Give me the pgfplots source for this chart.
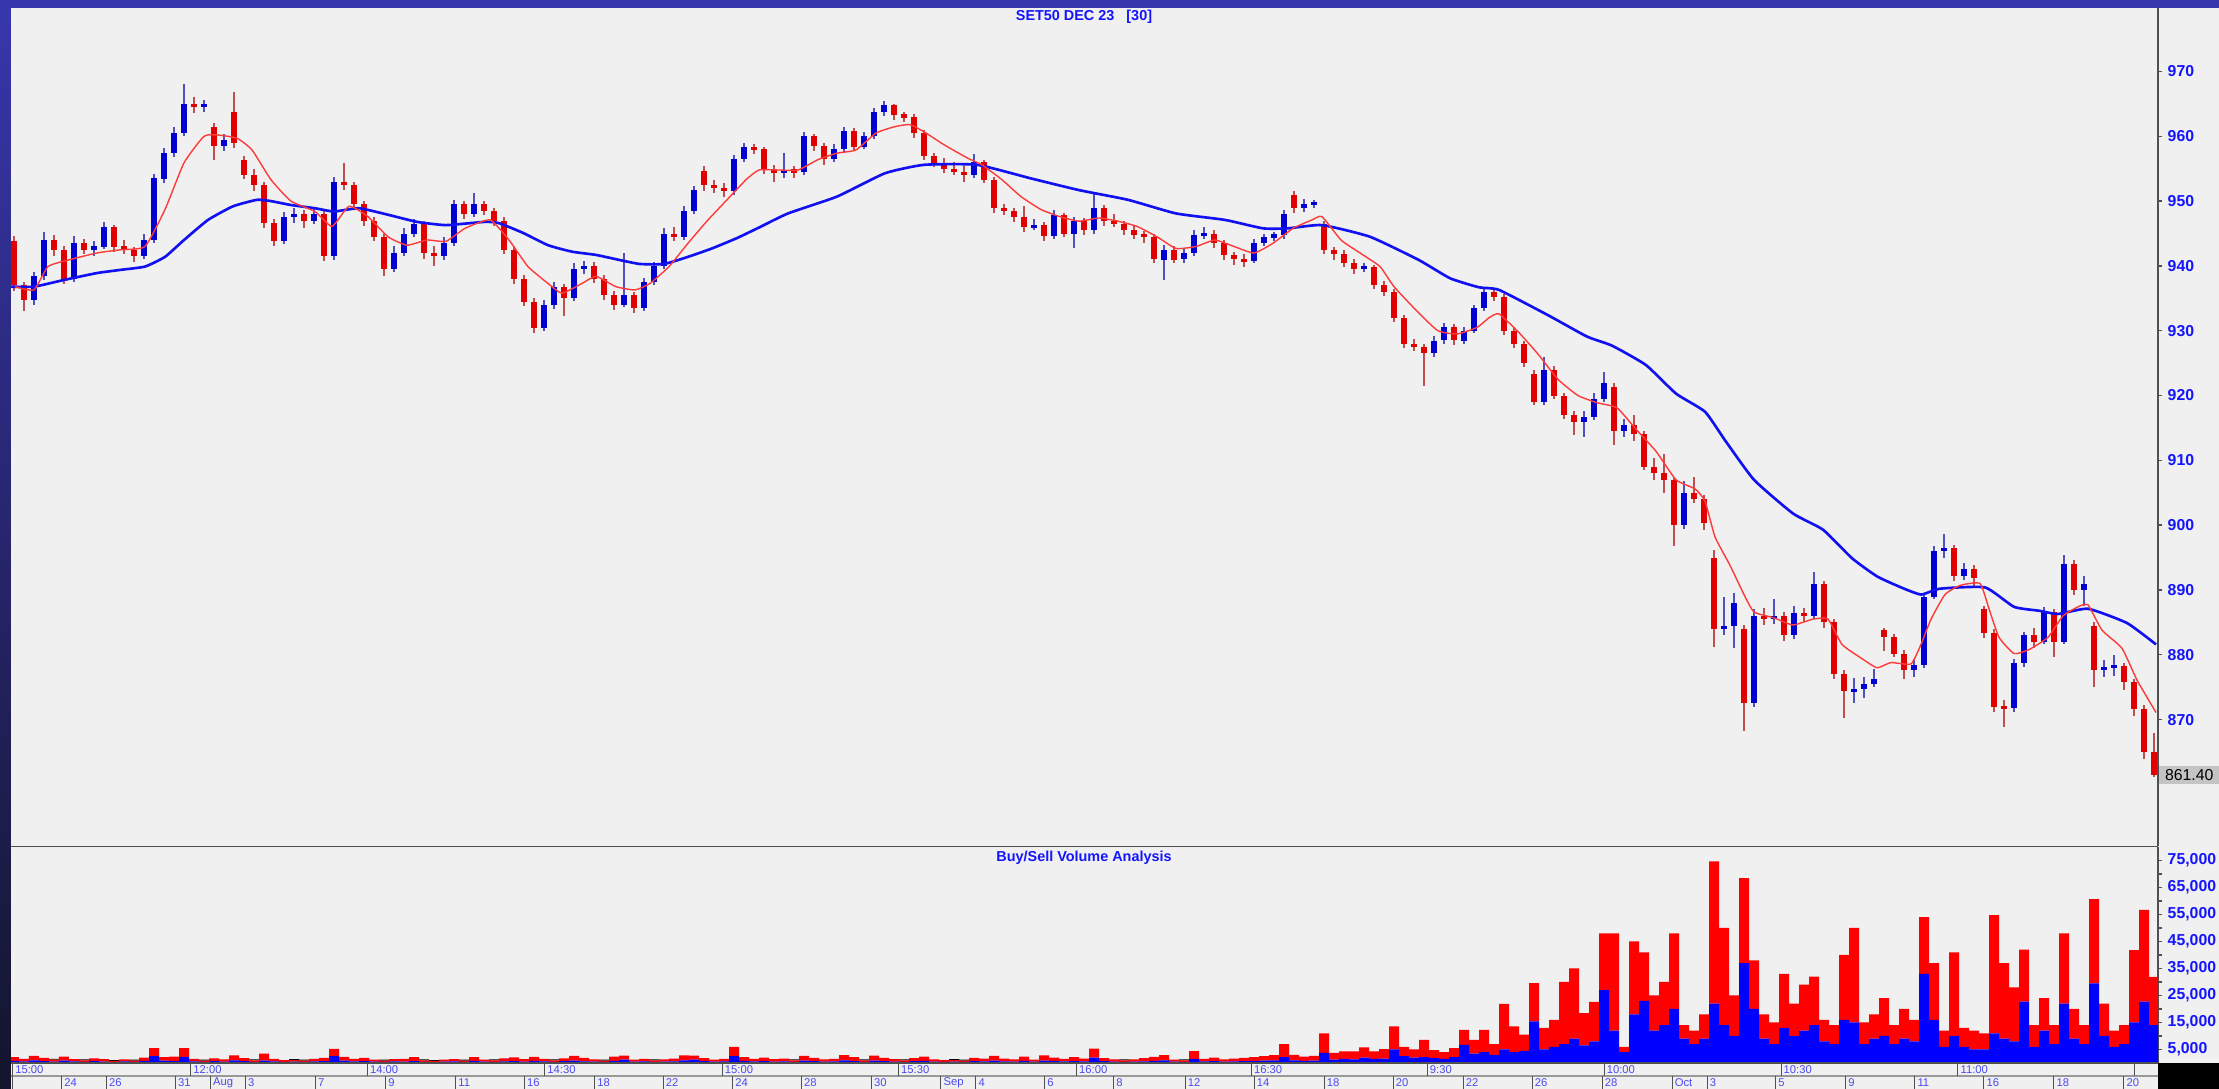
\documentclass[border=0pt]{standalone}
\usepackage{pgfplots}
\usepackage{pgfplotstable}
\usepackage{fontspec}
\setmainfont{Liberation Sans}
\pgfplotsset{compat=1.18}

% === COLOURS ===
\definecolor{frameBlue}{HTML}{3836AC}
\definecolor{frameDark}{HTML}{14142C}
\definecolor{panelBg}{HTML}{F0F0F0}
\definecolor{axisGray}{HTML}{505050}
\definecolor{labelBlue}{HTML}{1414FF}
\definecolor{dateBlue}{HTML}{4A4AF0}
\definecolor{upBody}{HTML}{0000D0}
\definecolor{downBody}{HTML}{E00000}
\definecolor{upWick}{HTML}{5050C0}
\definecolor{downWick}{HTML}{C05050}
\definecolor{maSlow}{HTML}{1010F0}
\definecolor{maFast}{HTML}{FF3A3A}
\definecolor{volBuy}{HTML}{0000FF}
\definecolor{volSell}{HTML}{FF0000}
\definecolor{lastGray}{HTML}{C4C4C4}

\newcommand\tickfont{\fontsize{4.5}{5}\selectfont\bfseries}
\newcommand\titlefont{\fontsize{4.1}{5}\selectfont\bfseries}
\newcommand\datefont{\fontsize{3.2}{4}\selectfont}

% === DATA (x in pixels of the original picture) ===
% 30-min candles, aggregated: open high low close
\pgfplotstableread{
x o h l c
14 943.8 944.6 936.2 937.0
24 937.0 937.6 933.0 934.8
34 934.8 939.0 934.0 938.4
44 938.4 945.2 937.8 944.0
54 944.0 944.8 941.6 942.5
64 942.5 943.0 937.2 938.0
74 938.0 944.6 937.5 943.5
84 943.5 944.2 941.8 942.5
94 942.5 943.8 941.5 943.0
104 943.0 946.8 942.6 946.0
114 946.0 946.4 942.2 943.0
124 943.0 944.0 941.8 942.5
134 942.5 943.0 940.6 941.5
144 941.5 945.0 941.0 944.0
154 944.0 954.2 943.5 953.5
164 953.5 958.2 952.8 957.5
174 957.5 961.4 956.8 960.5
184 960.5 968.1 960.0 965.0
194 965.0 966.0 963.6 964.5
204 964.5 965.6 963.8 965.0
214 961.5 962.0 956.4 958.5
224 958.5 960.4 957.8 959.5
234 963.8 966.9 958.2 958.9
244 956.4 957.0 953.4 954.0
254 954.0 955.0 951.6 952.5
264 952.5 953.0 945.8 946.6
274 946.6 947.2 943.0 943.8
284 943.8 948.4 943.4 947.5
294 947.5 949.0 946.6 948.0
304 948.0 948.6 945.8 947.0
314 947.0 949.0 946.4 948.0
324 948.0 948.4 940.8 941.5
334 941.5 953.8 941.0 953.0
344 953.0 955.9 951.8 952.5
354 952.5 953.0 948.8 949.5
364 949.5 950.0 946.2 947.0
374 947.0 947.6 943.8 944.5
384 944.5 945.0 938.4 939.5
394 939.5 943.0 939.0 942.0
404 942.0 945.8 941.6 945.0
414 945.0 947.2 944.4 946.5
424 946.5 947.0 941.0 942.0
434 942.0 943.0 940.0 941.5
444 941.5 944.4 941.0 943.5
454 943.5 950.2 943.0 949.5
464 949.5 950.0 947.2 948.0
474 948.0 951.2 947.6 949.5
484 949.5 950.0 947.8 948.5
494 948.5 949.0 946.2 947.0
504 947.0 947.6 941.8 942.5
514 942.5 943.0 937.2 938.0
524 938.0 938.6 933.8 934.5
534 934.5 935.0 929.6 930.5
544 930.5 934.8 930.0 934.0
554 934.0 937.6 933.4 936.8
564 936.8 937.2 932.2 935.0
574 935.0 940.4 934.6 939.5
584 939.5 940.8 938.8 940.0
594 940.0 940.6 937.4 938.0
604 938.0 938.6 934.8 935.5
614 935.5 936.2 933.2 934.0
624 934.0 942.0 933.6 935.5
634 935.5 936.0 932.7 933.5
644 933.5 938.2 933.0 937.5
654 937.5 940.6 937.0 940.0
664 940.0 945.8 939.6 945.0
674 945.0 946.0 943.8 944.5
684 944.5 949.2 944.0 948.5
694 948.5 952.4 948.0 951.7
704 954.6 955.4 951.6 952.5
714 952.5 953.2 951.2 952.0
724 952.0 952.8 950.6 951.5
734 951.5 957.2 951.0 956.5
744 956.5 959.0 956.0 958.3
754 958.3 958.8 957.2 958.0
764 958.0 958.4 954.2 955.0
774 955.0 955.6 953.0 954.3
784 954.3 957.4 953.6 954.8
794 954.8 955.4 953.6 954.5
804 954.5 960.6 954.0 960.0
814 960.0 960.4 957.8 958.5
824 958.5 959.0 955.6 956.5
834 956.5 958.8 956.0 958.0
844 958.0 961.4 957.6 960.8
854 960.8 961.3 957.8 958.4
864 958.4 960.6 958.0 960.0
874 960.0 964.4 959.6 963.8
884 963.8 965.4 963.2 964.8
894 964.8 965.0 962.6 963.3
904 963.3 963.8 962.2 963.0
914 963.0 963.4 959.8 960.5
924 960.5 961.0 956.4 957.0
934 957.0 957.4 955.2 955.9
944 955.9 956.6 954.4 955.0
954 955.0 956.0 954.0 954.5
964 954.5 955.4 953.0 954.0
974 954.0 957.2 953.6 956.0
984 956.0 956.4 952.8 953.3
994 953.3 953.8 948.2 949.0
1004 949.0 949.6 947.8 948.5
1014 948.5 949.0 946.8 947.5
1024 947.5 949.2 945.2 946.0
1034 946.0 947.2 945.6 946.3
1044 946.3 946.8 943.8 944.6
1054 944.6 948.6 944.2 947.9
1064 947.9 948.2 944.4 945.0
1074 945.0 947.6 942.8 947.0
1084 947.0 947.4 944.8 945.5
1094 945.5 951.2 945.0 949.0
1104 949.0 949.4 946.2 947.0
1114 947.0 948.0 946.0 946.5
1124 946.5 947.0 944.8 945.5
1134 945.5 946.2 944.2 944.8
1144 944.8 945.4 943.6 944.5
1154 944.5 945.0 940.4 941.0
1164 941.0 943.2 937.9 942.5
1174 942.5 943.0 940.4 941.0
1184 941.0 942.6 940.4 942.0
1194 942.0 945.6 941.6 944.8
1204 944.8 946.0 944.2 945.0
1214 945.0 945.6 942.8 943.5
1224 943.5 944.0 941.0 941.7
1234 941.7 942.2 940.2 941.0
1244 941.0 941.8 939.8 940.8
1254 940.8 944.2 940.4 943.5
1264 943.5 945.0 943.0 944.5
1274 944.5 945.2 943.8 944.7
1284 944.7 948.6 944.2 948.0
1294 951.0 951.6 948.2 949.0
1304 949.0 950.4 948.4 949.5
1314 949.5 950.2 949.0 949.7
1324 946.5 947.0 941.8 942.5
1334 942.5 943.0 941.0 941.8
1344 941.8 942.4 939.8 940.5
1354 940.5 941.0 938.8 939.5
1364 939.5 940.4 939.0 939.9
1374 939.9 940.2 936.4 937.0
1384 937.0 937.6 935.4 936.0
1394 936.0 936.4 931.4 932.0
1404 932.0 932.4 927.4 928.0
1414 928.0 928.8 926.8 927.5
1424 927.5 928.0 921.4 926.5
1434 926.5 929.2 926.0 928.5
1444 928.5 931.2 928.0 930.6
1454 930.6 931.0 927.8 928.5
1464 928.5 930.6 928.0 930.0
1474 930.0 934.0 929.6 933.5
1484 933.5 936.6 933.0 936.0
1494 936.0 936.4 934.6 935.2
1504 935.2 935.6 929.4 930.0
1514 930.0 930.6 927.4 928.0
1524 928.0 928.4 924.4 925.0
1534 923.4 924.0 918.6 919.0
1544 919.0 926.0 918.6 924.0
1554 924.0 924.6 919.4 920.0
1564 920.0 920.4 916.4 917.0
1574 917.0 917.6 914.0 916.0
1584 916.0 917.6 913.6 916.7
1594 916.7 920.4 916.2 919.5
1604 919.5 923.6 919.0 922.0
1614 921.4 922.0 912.4 914.5
1624 914.5 916.4 913.6 915.5
1634 915.5 917.0 913.0 914.0
1644 914.0 914.6 908.6 909.0
1654 909.0 910.4 907.0 908.0
1664 908.0 911.0 905.0 907.0
1674 907.0 907.4 896.8 900.0
1684 900.0 906.8 899.4 905.0
1694 905.0 907.4 903.4 904.0
1704 904.0 904.6 899.2 900.4
1714 894.9 896.2 881.2 884.0
1724 884.0 889.0 883.0 884.5
1734 884.5 889.6 881.0 888.0
1744 884.0 884.6 868.3 872.5
1754 872.5 887.0 872.0 886.0
1764 886.0 887.2 884.6 885.5
1774 885.5 888.6 884.8 886.0
1784 886.0 886.6 882.2 883.0
1794 883.0 887.6 882.4 886.5
1804 886.5 887.2 885.0 886.0
1814 886.0 892.8 885.6 891.0
1824 891.0 891.4 884.2 885.0
1834 885.0 885.6 876.2 877.0
1844 877.0 877.6 870.3 874.4
1854 874.4 876.4 872.6 874.7
1864 874.7 876.6 873.4 875.5
1874 875.5 877.8 875.0 876.3
1884 883.8 884.2 880.6 882.7
1894 882.7 883.2 879.6 880.2
1904 880.2 880.8 876.2 877.7
1914 877.7 879.4 876.6 878.5
1924 878.5 889.6 878.0 889.0
1934 889.0 896.8 888.6 896.0
1944 896.0 898.7 895.0 896.5
1954 896.5 897.0 891.4 892.1
1964 892.1 894.2 891.6 893.2
1974 893.2 893.8 890.6 891.8
1984 887.1 887.6 882.6 883.3
1994 883.3 884.0 871.2 872.0
2004 872.0 873.0 868.9 871.8
2014 871.8 879.4 871.2 878.8
2024 878.8 883.6 878.2 883.0
2034 883.0 884.2 881.0 882.0
2044 882.0 887.4 881.6 886.6
2054 886.6 887.0 879.6 882.0
2064 882.0 895.4 881.6 894.0
2074 894.0 894.6 889.2 890.0
2084 890.0 892.2 887.6 891.0
2094 884.4 885.0 875.0 877.7
2104 877.7 879.2 876.6 878.0
2114 878.0 880.0 876.8 878.3
2124 878.3 878.8 874.6 875.8
2134 875.8 876.2 870.6 871.7
2144 871.7 872.2 864.0 865.0
2154 865.0 868.0 861.2 861.4
}\candles

% volume: buy (blue), sell (red), neutral (black)
\pgfplotstableread{
x b s k
14 800 1400 0
24 600 900 0
34 1000 1600 0
44 700 1200 0
54 500 700 300
64 900 1500 0
74 600 800 0
84 400 600 300
94 700 1000 0
104 500 900 0
114 300 500 300
124 600 700 0
134 400 500 300
144 800 1200 0
154 2500 3000 0
164 900 1300 0
174 700 1700 0
184 2300 3200 0
194 600 900 0
204 400 500 300
214 700 1000 0
224 500 800 0
234 1000 1800 0
244 700 1100 0
254 400 600 300
264 900 2600 0
274 600 900 0
284 400 700 0
294 500 600 300
304 400 500 300
314 600 900 0
324 700 1200 0
334 2500 2700 0
344 900 1400 0
354 600 900 0
364 700 1200 0
374 500 700 0
384 400 500 300
394 600 800 0
404 500 1000 0
414 700 1500 0
424 400 600 300
434 300 500 300
444 500 700 0
454 600 800 0
464 400 500 300
474 800 1400 0
484 500 700 0
494 400 600 300
504 600 1100 0
514 700 1400 0
524 500 900 0
534 800 1500 0
544 600 900 0
554 400 600 300
564 700 1000 0
574 900 1700 0
584 600 1300 0
594 500 800 0
604 400 500 300
614 800 1600 0
624 1200 1500 0
634 500 700 0
644 600 900 0
654 400 600 300
664 500 800 0
674 600 1000 0
684 1000 1800 0
694 1200 1500 0
704 700 1100 0
714 500 700 0
724 600 900 0
734 2500 3500 0
744 800 1400 0
754 600 900 0
764 700 1300 0
774 500 900 0
784 600 1000 0
794 400 600 300
804 900 1700 0
814 700 1200 0
824 500 800 0
834 600 900 0
844 1000 1900 0
854 700 1500 0
864 400 600 300
874 900 1800 0
884 700 1200 0
894 500 900 0
904 400 600 300
914 700 1100 0
924 800 1600 0
934 500 800 0
944 400 700 0
954 500 600 300
964 400 500 300
974 700 1200 0
984 600 1000 0
994 900 1700 0
1004 600 1000 0
1014 500 800 0
1024 800 1600 0
1034 500 700 0
1044 900 1900 0
1054 800 1200 0
1064 600 900 0
1074 700 1500 0
1084 600 1000 0
1094 2000 3300 0
1104 700 1100 0
1114 500 800 0
1124 400 600 300
1134 500 800 0
1144 600 1200 0
1154 800 1500 0
1164 1000 1900 0
1174 500 700 0
1184 400 600 300
1194 1500 2900 0
1204 600 900 0
1214 700 1300 0
1224 500 800 0
1234 600 1000 0
1244 700 1200 0
1254 800 1400 0
1264 900 1600 0
1274 1000 1900 0
1284 2200 4800 0
1294 1000 2000 0
1304 800 1600 0
1314 900 1700 0
1324 3700 7300 0
1334 1200 2500 0
1344 1500 2800 0
1354 1300 3000 0
1364 2000 3800 0
1374 1500 2800 0
1384 1600 3500 0
1394 5000 8600 0
1404 2500 3500 0
1414 2000 3000 0
1424 2200 6400 0
1434 1800 3000 0
1444 1500 2500 0
1454 2200 3300 0
1464 6700 5600 0
1474 3500 5100 0
1484 4000 8300 0
1494 3000 4000 0
1504 5000 16900 0
1514 4000 9600 0
1524 4500 6000 0
1534 15400 14200 0
1544 5000 8000 0
1554 6000 10000 0
1564 7000 23000 0
1574 9000 26000 0
1584 6500 12000 0
1594 8000 14600 0
1604 27000 21000 0
1614 12000 36000 0
1624 4000 2000 0
1634 18000 27000 0
1644 23000 18000 0
1654 12000 13000 0
1664 14000 16000 0
1674 20000 28000 0
1684 9000 5000 0
1694 7000 5000 0
1704 9000 9000 0
1714 22000 52700 0
1724 14000 36000 0
1734 10000 15000 0
1744 37000 31500 0
1754 20000 18000 0
1764 9000 9000 0
1774 7000 8000 0
1784 13000 20000 0
1794 10000 12000 0
1804 12000 17000 0
1814 14000 18000 0
1824 8000 8000 0
1834 7000 7000 0
1844 16000 24000 0
1854 15000 35000 0
1864 7000 8000 0
1874 9000 9000 0
1884 10000 14000 0
1894 7000 7000 0
1904 9000 11000 0
1914 8000 8000 0
1924 33000 21000 0
1934 16000 21000 0
1944 6000 6000 0
1954 10000 31000 0
1964 6000 7000 0
1974 5000 7000 0
1984 5000 6000 0
1994 11000 43800 0
2004 9000 28000 0
2014 8000 20000 0
2024 22700 19300 0
2034 6000 8000 0
2044 12000 12000 0
2054 7000 7000 0
2064 22000 26000 0
2074 9000 11000 0
2084 7000 7000 0
2094 29500 31200 0
2104 10000 12000 0
2114 6000 6000 0
2124 7000 7000 0
2134 15000 26800 0
2144 22700 34000 0
2154 14000 17900 0
}\volumes

\begin{document}
\begin{tikzpicture}

% === FRAME ===
\fill[frameBlue] (0,10.81) rectangle (22.19,10.89);
\shade[top color=frameBlue, bottom color=frameDark] (0,0) rectangle (0.11,10.81);
\fill[panelBg] (21.58,0.26) rectangle (22.19,10.81);
\fill[panelBg] (0.11,0) rectangle (21.58,0.26);
\fill[black] (21.58,0) rectangle (22.19,0.26);

% === PRICE PANEL ===
\begin{axis}[
    at={(0.11cm,2.43cm)}, anchor=south west,
    scale only axis, width=21.47cm, height=8.38cm,
    xmin=11, xmax=2158, ymin=850.5, ymax=979.8,
    axis x line=none, axis y line*=right,
    axis line style={draw=axisGray, line width=0.45pt},
    axis background/.style={fill=panelBg},
    ytick={870,880,...,970},
    tick align=outside, major tick length=0.04cm,
    tick style={draw=axisGray, line width=0.4pt},
    yticklabel style={font=\tickfont, text=labelBlue, inner sep=0pt, xshift=0.05cm},
    /pgf/number format/assume math mode=true,
    clip=false,
]
% wicks
\addplot[draw=none, no markers, y filter/.expression={\thisrow{c}>=\thisrow{o} ? y : nan},
    error bars/.cd, y dir=both, y explicit, error mark=none,
    error bar style={line width=0.013cm, draw=upWick}]
    table[x=x, y expr={(\thisrow{h}+\thisrow{l})/2}, y error expr={(\thisrow{h}-\thisrow{l})/2}] {\candles};
\addplot[draw=none, no markers, y filter/.expression={\thisrow{c}<\thisrow{o} ? y : nan},
    error bars/.cd, y dir=both, y explicit, error mark=none,
    error bar style={line width=0.013cm, draw=downWick}]
    table[x=x, y expr={(\thisrow{h}+\thisrow{l})/2}, y error expr={(\thisrow{h}-\thisrow{l})/2}] {\candles};
% bodies
\addplot[draw=none, no markers, y filter/.expression={\thisrow{c}>=\thisrow{o} ? y : nan},
    error bars/.cd, y dir=both, y explicit, error mark=none,
    error bar style={line width=0.065cm, draw=upBody}]
    table[x=x, y expr={(\thisrow{o}+\thisrow{c})/2}, y error expr={max(abs(\thisrow{c}-\thisrow{o})/2,0.25)}] {\candles};
\addplot[draw=none, no markers, y filter/.expression={\thisrow{c}<\thisrow{o} ? y : nan},
    error bars/.cd, y dir=both, y explicit, error mark=none,
    error bar style={line width=0.065cm, draw=downBody}]
    table[x=x, y expr={(\thisrow{o}+\thisrow{c})/2}, y error expr={max(abs(\thisrow{c}-\thisrow{o})/2,0.25)}] {\candles};

% slow moving average
\addplot[maSlow, line width=0.75pt, smooth, tension=0.3] coordinates {
(11,936.8) (34,936.8) (63,937.8) (97,938.9) (121,939.4) (145,939.9) (165,941.4)
(184,944.0) (208,947.1) (233,949.2) (257,950.2) (271,950.0) (291,949.4) (315,948.9)
(334,948.4) (359,948.9) (388,947.9) (417,946.8) (446,946.3) (485,946.8) (499,946.6)
(523,945.1) (548,943.2) (572,942.2) (596,941.7) (620,940.9) (640,940.3) (664,940.3)
(688,941.4) (712,942.7) (737,944.3) (760,946.0) (788,948.1) (837,950.7) (885,954.3)
(924,955.6) (977,955.6) (1031,953.5) (1079,951.7) (1128,950.2) (1176,948.1) (1225,947.1)
(1263,945.8) (1288,945.8) (1322,946.3) (1370,944.5) (1419,940.9) (1450,938.1) (1479,936.7)
(1499,936.3) (1548,932.4) (1587,929.1) (1612,927.7) (1646,924.7) (1676,920.3) (1705,917.5)
(1725,913.1) (1754,907.0) (1793,901.8) (1823,899.3) (1852,894.9) (1877,892.1) (1901,890.4)
(1921,889.3) (1940,890.2) (1985,890.4) (2014,887.4) (2039,886.8) (2058,886.3) (2088,887.1)
(2127,884.9) (2156,881.6)
};
% fast moving average
\addplot[maFast, line width=0.4pt, smooth, tension=0.3] coordinates {
(15,936.8) (34,936.3) (48,939.9) (68,940.9) (97,942.0) (121,942.5) (145,943.0)
(165,948.7) (184,955.9) (204,960.0) (218,960.2) (237,959.7) (252,957.9) (271,953.3)
(291,950.0) (315,948.4) (332,946.1) (349,949.2) (368,947.6) (388,944.5) (407,943.2)
(427,944.0) (446,943.8) (465,945.8) (490,947.1) (509,944.0) (528,939.9) (548,937.3)
(562,935.8) (582,937.3) (596,938.4) (616,936.8) (635,936.3) (650,937.3) (669,939.9)
(688,943.5) (708,947.1) (727,950.2) (746,953.3) (759,954.8) (779,954.8) (798,954.8)
(818,956.4) (837,957.4) (856,957.9) (876,960.5) (895,961.5) (910,961.8) (924,960.7)
(944,958.7) (968,956.6) (982,955.6) (1002,953.3) (1021,950.7) (1041,948.7) (1060,947.6)
(1079,946.9) (1099,947.4) (1118,946.9) (1137,946.1) (1157,944.5) (1176,942.7) (1196,943.0)
(1215,944.0) (1234,943.0) (1254,942.0) (1273,943.5) (1293,945.8) (1312,947.1) (1322,947.6)
(1341,944.0) (1360,942.0) (1380,939.9) (1394,936.8) (1419,932.7) (1438,930.0) (1457,929.5)
(1477,930.5) (1489,932.0) (1499,932.6) (1519,929.7) (1538,926.4) (1558,922.5) (1578,920.0)
(1597,918.9) (1617,918.1) (1636,914.8) (1656,911.4) (1676,907.0) (1695,905.6) (1705,903.7)
(1715,898.2) (1730,893.8) (1744,889.3) (1754,886.6) (1774,885.7) (1793,884.6) (1813,885.5)
(1828,885.5) (1842,881.6) (1862,879.4) (1877,878.0) (1891,878.8) (1911,878.6) (1921,881.6)
(1931,885.5) (1945,889.3) (1960,890.7) (1980,891.0) (1989,887.1) (1999,882.7) (2014,880.2)
(2029,880.8) (2048,882.7) (2063,886.0) (2078,887.4) (2088,887.7) (2102,883.8) (2122,881.0)
(2137,876.1) (2156,871.1)
};

% last price box
\node[fill=lastGray, text=black, anchor=west, inner sep=0pt, minimum height=0.18cm,
    minimum width=0.61cm, font=\fontsize{4.5}{5}\selectfont] at (axis cs:2158,861.4) {861.40};
\end{axis}

% === VOLUME PANEL ===
\begin{axis}[
    at={(0.11cm,0.26cm)}, anchor=south west,
    scale only axis, width=21.47cm, height=2.16cm,
    xmin=11, xmax=2158, ymin=0, ymax=80000,
    axis x line=none, axis y line*=right,
    axis line style={draw=axisGray, line width=0.45pt},
    axis background/.style={fill=panelBg},
    ytick={5000,15000,...,75000},
    minor ytick={10000,20000,...,70000},
    scaled y ticks=false,
    tick align=outside, major tick length=0.04cm, minor tick length=0.04cm,
    tick style={draw=axisGray, line width=0.4pt},
    yticklabel style={font=\tickfont, text=labelBlue, inner sep=0pt, xshift=0.05cm,
        /pgf/number format/.cd, fixed, 1000 sep={,}},
    /pgf/number format/assume math mode=true,
    ybar stacked, bar width=10,
    enlargelimits=false,
]
\addplot[fill=volBuy, draw=none] table[x=x, y=b] {\volumes};
\addplot[fill=volSell, draw=none] table[x=x, y=s] {\volumes};
\addplot[fill=black, draw=none] table[x=x, y=k] {\volumes};
\end{axis}

% === PANEL LINES AND TITLES ===
\draw[axisGray, line width=0.5pt] (0.11,2.425) -- (21.58,2.425);
\draw[axisGray, line width=0.5pt] (0.11,0.26) -- (21.58,0.26);
\draw[gray!80, line width=0.3pt] (0.11,0.13) -- (21.58,0.13);
\node[font=\titlefont, text=labelBlue] at (10.84,10.72) {SET50 DEC 23\ \ \ [30]};
\node[font=\titlefont, text=labelBlue] at (10.84,2.315) {Buy/Sell Volume Analysis};

% time row
\foreach \xx/\lab in {12.6/15:00, 190.8/12:00, 367.6/14:00, 545/14:30, 722.6/15:00,
    899/15:30, 1077/16:00, 1252/16:30, 1428/9:30, 1605/10:00, 1782/10:30, 1959/11:00, 2136/{}} {
  \draw[axisGray, line width=0.3pt] ({\xx*0.01},0.26) -- ({\xx*0.01},0.13);
  \node[font=\datefont, text=dateBlue, anchor=west, inner sep=0pt] at ({\xx*0.01+0.02},0.195) {\lab};
}
% date row
\foreach \xx/\lab in {12.6/{}, 61.7/24, 106.6/26, 175.4/31, 210.5/Aug, 245.5/3, 315.7/7,
    385.8/9, 456/11, 524.7/16, 594.9/18, 663.6/22, 733/24, 801.8/28, 872/30, 941.4/Sep,
    976.5/4, 1045.2/6, 1114.3/8, 1185.7/12, 1254.9/14, 1324.8/18, 1394/20, 1464/22,
    1533/26, 1603/28, 1673/Oct, 1708/3, 1776.6/5, 1846.6/9, 1915.9/11, 1985/16,
    2055/18, 2125/20} {
  \draw[axisGray, line width=0.3pt] ({\xx*0.01},0.13) -- ({\xx*0.01},0);
  \node[font=\datefont, text=dateBlue, anchor=west, inner sep=0pt] at ({\xx*0.01+0.02},0.065) {\lab};
}

\pgfresetboundingbox
\useasboundingbox (0,0) rectangle (22.19,10.89);
\end{tikzpicture}
\end{document}
